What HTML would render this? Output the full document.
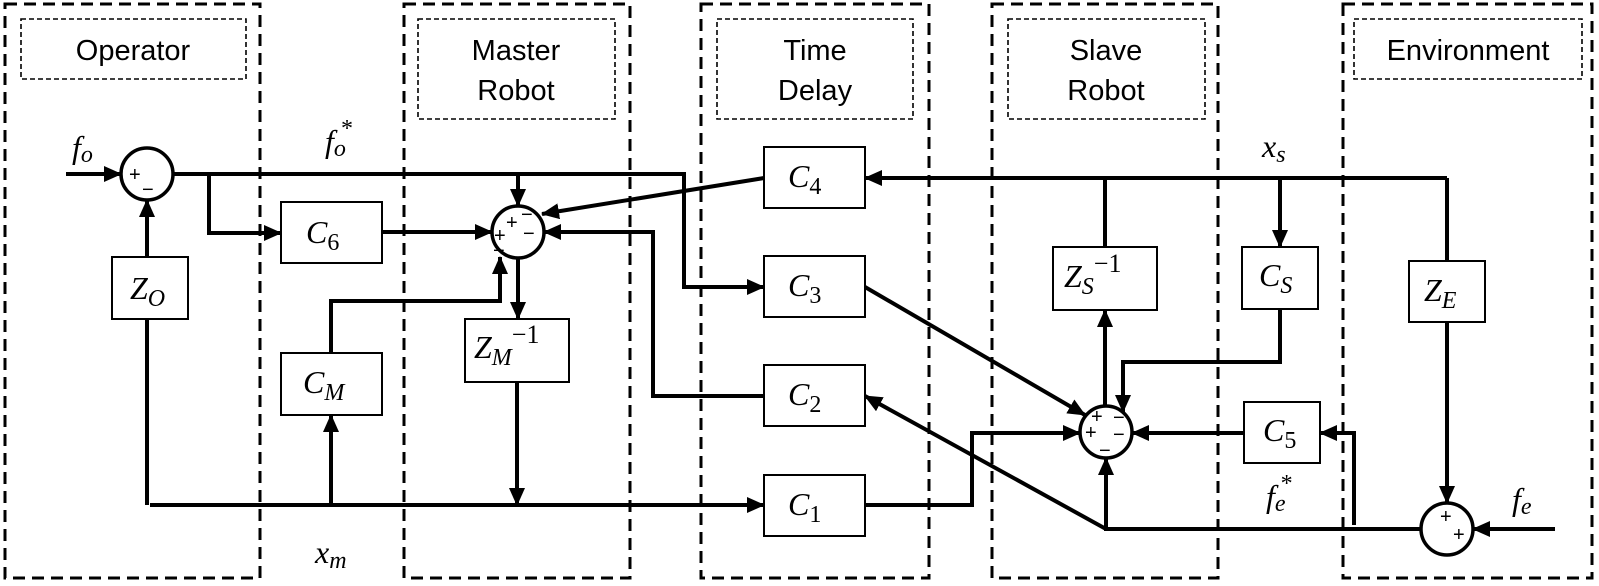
<!DOCTYPE html>
<html><head><meta charset="utf-8"><style>
html,body{margin:0;padding:0;background:#fff;}
svg{display:block}
.t{font-family:"Liberation Sans",sans-serif;font-size:29px;fill:#000;text-anchor:middle}
.m{font-family:"Liberation Serif",serif;font-style:italic;font-size:32px;fill:#000}
.s{font-family:"Liberation Serif",serif;font-style:italic;font-size:24px}
.d{font-family:"Liberation Serif",serif;font-style:normal;font-size:24px}
.p{font-family:"Liberation Sans",sans-serif;font-size:20px;fill:#000}
</style></head><body>
<svg width="1599" height="586" viewBox="0 0 1599 586" xmlns="http://www.w3.org/2000/svg">
<defs>
<marker id="a" markerUnits="userSpaceOnUse" markerWidth="18" markerHeight="16" refX="17" refY="8" orient="auto"><path d="M0,0 L18,8 L0,16 Z" fill="#000"/></marker>
</defs>
<g fill="none" stroke="#000" stroke-width="3" stroke-dasharray="12,7">
<rect x="5" y="4" width="255" height="574"/>
<rect x="404" y="4" width="226" height="574"/>
<rect x="701" y="4" width="228" height="574"/>
<rect x="992" y="4" width="226" height="574"/>
<rect x="1343" y="4" width="249" height="574"/>
</g>
<g fill="none" stroke="#000" stroke-width="1.6" stroke-dasharray="5,3">
<rect x="21" y="19" width="225" height="60"/>
<rect x="418" y="19" width="197" height="100"/>
<rect x="717" y="19" width="196" height="100"/>
<rect x="1008" y="19" width="197" height="100"/>
<rect x="1354" y="19" width="228" height="60"/>
</g>
<text class="t" x="133" y="60">Operator</text>
<text class="t" x="516" y="60">Master</text><text class="t" x="516" y="100">Robot</text>
<text class="t" x="815" y="60">Time</text><text class="t" x="815" y="100">Delay</text>
<text class="t" x="1106" y="60">Slave</text><text class="t" x="1106" y="100">Robot</text>
<text class="t" x="1468" y="60">Environment</text>

<g fill="#fff" stroke="#000" stroke-width="2">
<rect x="112" y="257" width="76" height="62"/>
<rect x="281" y="202" width="101" height="61"/>
<rect x="281" y="353" width="101" height="62"/>
<rect x="465" y="319" width="104" height="63"/>
<rect x="764" y="147" width="101" height="61"/>
<rect x="764" y="256" width="101" height="61"/>
<rect x="764" y="365" width="101" height="61"/>
<rect x="764" y="475" width="101" height="61"/>
<rect x="1053" y="247" width="104" height="63"/>
<rect x="1242" y="247" width="76" height="62"/>
<rect x="1244" y="402" width="76" height="61"/>
<rect x="1409" y="261" width="76" height="61"/>
</g>
<g fill="#fff" stroke="#000" stroke-width="3.5">
<circle cx="147" cy="174" r="26"/>
<circle cx="518" cy="232" r="26"/>
<circle cx="1106" cy="432" r="26"/>
<circle cx="1447" cy="529" r="26"/>
</g>

<g fill="none" stroke="#000" stroke-width="4">
<path d="M66,174 H121" marker-end="url(#a)"/>
<path d="M173,174 H684 V287 H764" marker-end="url(#a)"/>
<path d="M209,174 V233 H281" marker-end="url(#a)"/>
<path d="M382,232 H492" marker-end="url(#a)"/>
<path d="M518,174 V206" marker-end="url(#a)"/>
<path d="M764,178 L542,214" marker-end="url(#a)"/>
<path d="M764,396 H653 V232 H544" marker-end="url(#a)"/>
<path d="M518,258 V319" marker-end="url(#a)"/>
<path d="M517,382 V505" marker-end="url(#a)"/>
<path d="M147,505 V319"/>
<path d="M150,505 H764" marker-end="url(#a)"/>
<path d="M147,257 V200" marker-end="url(#a)"/>
<path d="M331,505 V415" marker-end="url(#a)"/>
<path d="M331,353 V301 H500 V257" marker-end="url(#a)"/>
<path d="M865,287 L1085,415" marker-end="url(#a)"/>
<path d="M865,505 H972 V433 H1080" marker-end="url(#a)"/>
<path d="M1447,178 H865" marker-end="url(#a)"/>
<path d="M1105,178 V247"/>
<path d="M1105,406 V310" marker-end="url(#a)"/>
<path d="M1280,178 V247" marker-end="url(#a)"/>
<path d="M1280,309 V362 H1123 V412" marker-end="url(#a)"/>
<path d="M1447,178 V261"/>
<path d="M1447,322 V503" marker-end="url(#a)"/>
<path d="M1555,529 H1473" marker-end="url(#a)"/>
<path d="M1421,529 H1106 V458" marker-end="url(#a)"/>
<path d="M1106,529 L865,396" marker-end="url(#a)"/>
<path d="M1354,525 V433 H1320" marker-end="url(#a)"/>
<path d="M1244,433 H1132" marker-end="url(#a)"/>
</g>

<text class="p" x="129" y="181">+</text><text class="p" x="142" y="196">−</text>
<text class="p" x="506" y="229">+</text><text class="p" x="521" y="221">−</text><text class="p" x="494" y="242">+</text><text class="p" x="523" y="240">−</text><text class="p" x="493" y="257">−</text>
<text class="p" x="1091" y="423">+</text><text class="p" x="1113" y="424">−</text><text class="p" x="1085" y="439">+</text><text class="p" x="1113" y="441">−</text><text class="p" x="1099" y="457">−</text>
<text class="p" x="1440" y="523">+</text><text class="p" x="1453" y="541">+</text>

<text class="m" x="130" y="299">Z<tspan class="s" dy="7">O</tspan></text>
<text class="m" x="306" y="243">C<tspan class="d" dy="7">6</tspan></text>
<text class="m" x="303" y="393">C<tspan class="s" dy="7">M</tspan></text>
<text class="m" x="474" y="358">Z<tspan class="s" dy="7">M</tspan><tspan font-style="normal" font-size="26" dy="-22">−1</tspan></text>
<text class="m" x="788" y="187">C<tspan class="d" dy="7">4</tspan></text>
<text class="m" x="788" y="296">C<tspan class="d" dy="7">3</tspan></text>
<text class="m" x="788" y="405">C<tspan class="d" dy="7">2</tspan></text>
<text class="m" x="788" y="515">C<tspan class="d" dy="7">1</tspan></text>
<text class="m" x="1064" y="287">Z<tspan class="s" dy="7">S</tspan><tspan font-style="normal" font-size="26" dy="-22">−1</tspan></text>
<text class="m" x="1259" y="286">C<tspan class="s" dy="7">S</tspan></text>
<text class="m" x="1263" y="441">C<tspan class="d" dy="7">5</tspan></text>
<text class="m" x="1424" y="301">Z<tspan class="s" dy="7">E</tspan></text>

<text class="m" x="72" y="158">f<tspan class="s" dy="4">o</tspan></text>
<text class="m" x="325" y="152">f<tspan class="s" dy="4">o</tspan><tspan class="s" font-style="normal" dx="-6" dy="-20">*</tspan></text>
<text class="m" x="1262" y="157">x<tspan class="s" dy="5">s</tspan></text>
<text class="m" x="315" y="563">x<tspan class="s" dy="5">m</tspan></text>
<text class="m" x="1266" y="507">f<tspan class="s" dy="4">e</tspan><tspan class="s" font-style="normal" dx="-6" dy="-20">*</tspan></text>
<text class="m" x="1512" y="510">f<tspan class="s" dy="4">e</tspan></text>
</svg>
</body></html>
